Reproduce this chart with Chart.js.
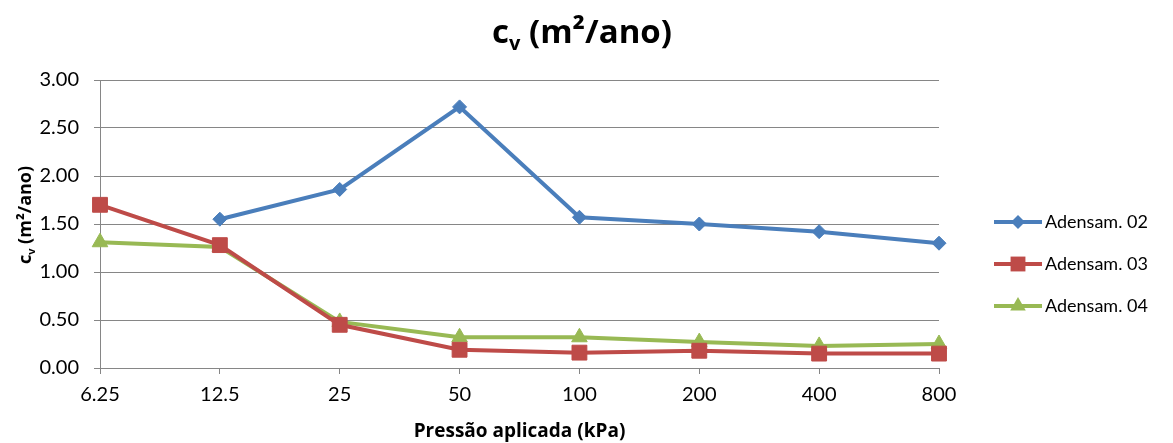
<!DOCTYPE html>
<html>
<head>
<meta charset="utf-8">
<script src="https://cdn.jsdelivr.net/npm/chart.js@4.4.1/dist/chart.umd.min.js"></script>
<style>
  html, body { margin: 0; padding: 0; background: #fff; }
  #wrap { width: 1173px; height: 443px; }
</style>
</head>
<body>
<div id="wrap"><canvas id="cvChart" width="1173" height="443"></canvas></div>
<script>
// data
const pressures = ['6.25', '12.5', '25', '50', '100', '200', '400', '800'];
const adensam02 = [null, 1.55, 1.86, 2.72, 1.57, 1.50, 1.42, 1.30];
const adensam03 = [1.70, 1.28, 0.45, 0.19, 0.16, 0.18, 0.15, 0.15];
const adensam04 = [1.31, 1.26, 0.48, 0.32, 0.32, 0.27, 0.23, 0.25];
const seriesNames = ['Adensam. 02', 'Adensam. 03', 'Adensam. 04'];
const yMin = 0, yMax = 3, yStep = 0.5;

const FONT = 'Lato, "Open Sans", "Noto Sans", sans-serif';
const TITLE_FONT = '"Open Sans", Lato, sans-serif';
const GRID = '#868686';

// draws "c" + subscript "v" + rest, centred on (cx, baseline)
function drawCvText(ctx, cx, baseline, size, rest) {
    ctx.save();
    ctx.textAlign = 'left';
    ctx.textBaseline = 'alphabetic';
    ctx.fillStyle = '#000';
    const big = 'bold ' + size + 'px ' + TITLE_FONT;
    const small = 'bold ' + Math.round(size * 0.62) + 'px ' + TITLE_FONT;
    ctx.font = big;
    const wc = ctx.measureText('c').width;
    const wr = ctx.measureText(rest).width;
    ctx.font = small;
    const wv = ctx.measureText('v').width;
    let x = cx - (wc + wv + wr) / 2;
    ctx.font = big;
    ctx.fillText('c', x, baseline);
    x += wc;
    ctx.font = small;
    ctx.fillText('v', x, baseline + size * 0.22);
    x += wv;
    ctx.font = big;
    ctx.fillText(rest, x, baseline);
    ctx.restore();
}

function drawMarker(ctx, style, x, y, r, color) {
    ctx.save();
    ctx.fillStyle = color;
    ctx.beginPath();
    if (style === 'rectRot') {
        ctx.moveTo(x, y - r); ctx.lineTo(x + r, y); ctx.lineTo(x, y + r); ctx.lineTo(x - r, y);
    } else if (style === 'rect') {
        const s = r / Math.SQRT2;
        ctx.rect(x - s, y - s, 2 * s, 2 * s);
    } else {
        ctx.moveTo(x, y - r); ctx.lineTo(x + r * 0.866, y + r / 2); ctx.lineTo(x - r * 0.866, y + r / 2);
    }
    ctx.closePath();
    ctx.fill();
    ctx.restore();
}

const titlesPlugin = {
    id: 'cvTitles',
    afterDraw(chart) {
        const ctx = chart.ctx;
        const area = chart.chartArea;
        // main title
        drawCvText(ctx, 582, 43, 33, ' (m²/ano)');
        // y axis title
        ctx.save();
        ctx.translate(31, 215);
        ctx.rotate(-Math.PI / 2);
        drawCvText(ctx, 0, 0, 18, ' (m²/ano)');
        ctx.restore();
        // legend: line with marker
        const ds = chart.data.datasets;
        ds.forEach((d, i) => {
            const y = 222 + i * 42;
            const x0 = area.right + 55, x1 = area.right + 103;
            ctx.save();
            ctx.strokeStyle = d.borderColor;
            ctx.lineWidth = 4;
            ctx.beginPath();
            ctx.moveTo(x0, y); ctx.lineTo(x1, y);
            ctx.stroke();
            ctx.restore();
            drawMarker(ctx, d.pointStyle, (x0 + x1) / 2, y, d.pointRadius, d.borderColor);
            ctx.save();
            ctx.font = '18px ' + FONT;
            ctx.fillStyle = '#000';
            ctx.textAlign = 'left';
            ctx.textBaseline = 'middle';
            ctx.fillText(d.label, x1 + 3, y);
            ctx.restore();
        });
    }
};

const ctx = document.getElementById('cvChart').getContext('2d');
const cvChart = new Chart(ctx, {
    type: 'line',
    data: {
        labels: pressures,
        datasets: [
            {
                label: seriesNames[0],
                data: adensam02,
                borderColor: '#4A7EBB',
                backgroundColor: '#4A7EBB',
                borderWidth: 4,
                pointStyle: 'rectRot',
                pointRadius: 7,
                pointBorderWidth: 1,
                tension: 0
            },
            {
                label: seriesNames[1],
                data: adensam03,
                borderColor: '#BE4B48',
                backgroundColor: '#BE4B48',
                borderWidth: 4,
                pointStyle: 'rect',
                pointRadius: 10.5,
                pointBorderWidth: 1,
                tension: 0
            },
            {
                label: seriesNames[2],
                data: adensam04,
                borderColor: '#98B954',
                backgroundColor: '#98B954',
                borderWidth: 4,
                pointStyle: 'triangle',
                pointRadius: 9,
                pointBorderWidth: 1,
                tension: 0
            }
        ]
    },
    options: {
        responsive: false,
        animation: false,
        devicePixelRatio: 1,
        layout: { padding: { top: 80, right: 234, left: 0, bottom: 0 } },
        plugins: {
            legend: { display: false },
            title: { display: false },
            tooltip: { enabled: false }
        },
        scales: {
            x: {
                offset: false,
                grid: { display: true, drawOnChartArea: false, drawTicks: true, tickLength: 6, color: GRID },
                border: { color: GRID, width: 1 },
                ticks: { color: '#000', font: { family: FONT, size: 20 }, padding: 9, maxRotation: 0, autoSkip: false },
                title: { display: true, text: 'Pressão aplicada (kPa)', color: '#000', font: { family: TITLE_FONT, size: 19, weight: 'bold' }, padding: { top: 2, bottom: 0 } },
                afterFit: (scale) => { scale.height = 75; }
            },
            y: {
                min: yMin,
                max: yMax,
                grid: { color: GRID, lineWidth: 1, tickLength: 6 },
                border: { color: GRID, width: 1 },
                ticks: {
                    stepSize: yStep,
                    color: '#000',
                    font: { family: FONT, size: 20 },
                    padding: 15,
                    callback: (v) => Number(v).toFixed(2)
                },
                afterFit: (scale) => { scale.width = 100; }
            }
        }
    },
    plugins: [titlesPlugin]
});
</script>
</body>
</html>
